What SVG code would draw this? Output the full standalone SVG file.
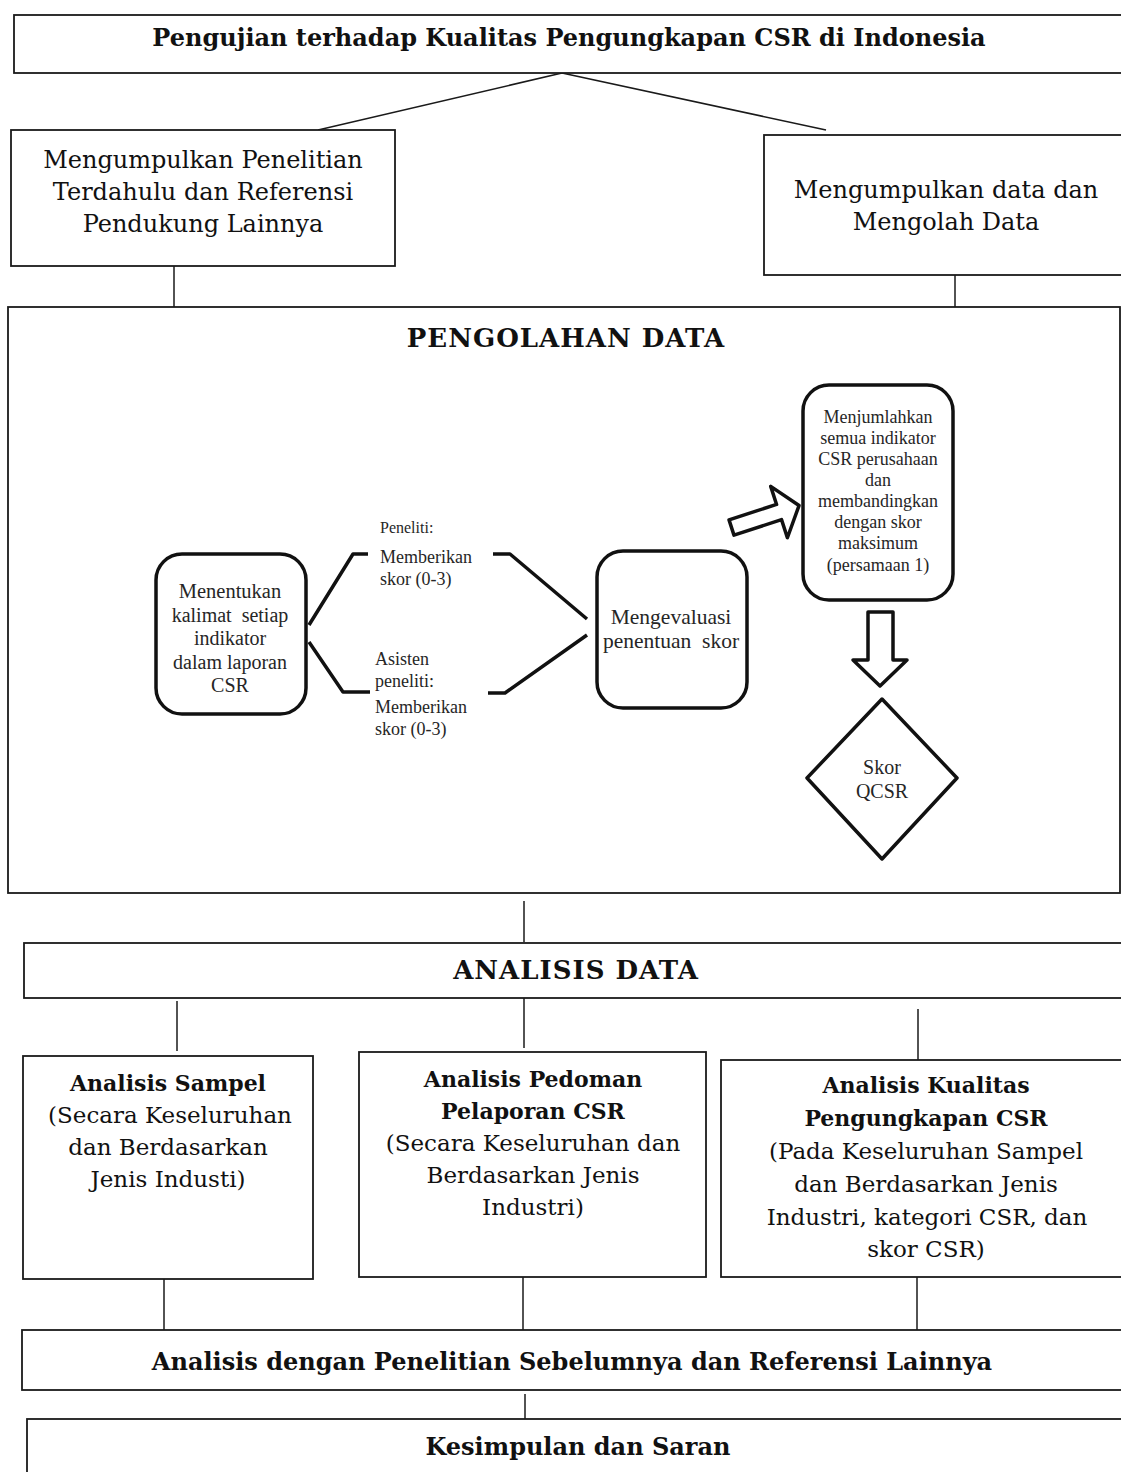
<svg xmlns="http://www.w3.org/2000/svg" width="1121" height="1472" viewBox="0 0 1121 1472">
<style>
.box{fill:#fff;stroke:#1a1a1a;stroke-width:1.8}
.ln{stroke:#1a1a1a;stroke-width:1.5;fill:none}
.t{font-family:"DejaVu Serif","Liberation Serif",serif;font-size:23px;fill:#111;text-anchor:middle}
.t24{font-size:24px}
.b{font-weight:bold}
.b22{font-weight:bold;font-size:22px}
.cap{font-size:26px;letter-spacing:1px}
.rr{fill:#fff;stroke:#111;stroke-width:3.5}
.thick{stroke:#111;stroke-width:3.5;fill:none;stroke-linejoin:round}
.s{font-family:"Liberation Serif","Times New Roman",serif;fill:#262626;text-anchor:middle}
.sl{font-family:"Liberation Serif","Times New Roman",serif;fill:#262626}
</style>
<rect width="1121" height="1472" fill="#fff"/>
<g id="connectors">
<line class="ln" x1="562" y1="73" x2="318" y2="130"/>
<line class="ln" x1="562" y1="73" x2="826" y2="130"/>
<line class="ln" x1="174" y1="266" x2="174" y2="308"/>
<line class="ln" x1="955" y1="275" x2="955" y2="308"/>
<line class="ln" x1="524" y1="901" x2="524" y2="942"/>
<line class="ln" x1="177" y1="1001" x2="177" y2="1051"/>
<line class="ln" x1="524" y1="998" x2="524" y2="1048"/>
<line class="ln" x1="918" y1="1009" x2="918" y2="1060"/>
<line class="ln" x1="164" y1="1279" x2="164" y2="1330"/>
<line class="ln" x1="523" y1="1277" x2="523" y2="1330"/>
<line class="ln" x1="917" y1="1277" x2="917" y2="1330"/>
<line class="ln" x1="525" y1="1394" x2="525" y2="1420"/>
</g>
<g id="n-title">
<rect class="box" x="14" y="15" width="1120" height="58"/>
<text class="t t24 b" x="569" y="46">Pengujian terhadap Kualitas Pengungkapan CSR di Indonesia</text>
</g>
<g id="n-kumpul-penelitian">
<rect class="box" x="11" y="130" width="384" height="136"/>
<text class="t t24" x="203" y="168">Mengumpulkan Penelitian</text>
<text class="t t24" x="203" y="200">Terdahulu dan Referensi</text>
<text class="t t24" x="203" y="232">Pendukung Lainnya</text>
</g>
<g id="n-kumpul-data">
<rect class="box" x="764" y="135" width="370" height="140"/>
<text class="t t24" x="946" y="198">Mengumpulkan data dan</text>
<text class="t t24" x="946" y="230">Mengolah Data</text>
</g>
<g id="n-pengolahan">
<rect class="box" x="8" y="307" width="1112" height="586"/>
<text class="t b cap" x="566" y="347">PENGOLAHAN DATA</text>
</g>
<g id="n-menentukan">
<rect class="rr" x="156" y="554" width="150" height="160" rx="26"/>
<text class="s" font-size="20.5" x="230" y="598">Menentukan</text>
<text class="s" font-size="20" x="230" y="622" xml:space="preserve">kalimat  setiap</text>
<text class="s" font-size="20" x="230" y="645">indikator</text>
<text class="s" font-size="20" x="230" y="669">dalam laporan</text>
<text class="s" font-size="20" x="230" y="692">CSR</text>
</g>
<g id="branches">
<polyline class="thick" points="309,625 353,554 368,554"/>
<polyline class="thick" points="309,642 343,692 370,692"/>
<polyline class="thick" points="493,554 510,554 587,619"/>
<polyline class="thick" points="488,693 505,693 587,635"/>
<text class="sl" font-size="16" x="380" y="533">Peneliti:</text>
<text class="sl" font-size="18" x="380" y="563">Memberikan</text>
<text class="sl" font-size="18" x="380" y="585">skor (0-3)</text>
<text class="sl" font-size="18" x="375" y="665">Asisten</text>
<text class="sl" font-size="18" x="375" y="687">peneliti:</text>
<text class="sl" font-size="18" x="375" y="713">Memberikan</text>
<text class="sl" font-size="18" x="375" y="735">skor (0-3)</text>
</g>
<g id="n-mengevaluasi">
<rect class="rr" x="597" y="551" width="150" height="157" rx="26"/>
<text class="s" font-size="21.5" x="671" y="624">Mengevaluasi</text>
<text class="s" font-size="21.5" x="671" y="648" xml:space="preserve">penentuan  skor</text>
</g>
<g id="arrow-diag">
<polygon class="thick" stroke-width="3" fill="#fff" points="0,-8 50,-8 50,-27 71,0 50,27 50,8 0,8" transform="translate(731.5,527.5) rotate(-18)"/>
</g>
<g id="n-menjumlahkan">
<rect class="rr" x="803" y="385" width="150" height="215" rx="26"/>
<text class="s" font-size="18" x="878" y="423">Menjumlahkan</text>
<text class="s" font-size="18" x="878" y="444">semua indikator</text>
<text class="s" font-size="18" x="878" y="465">CSR perusahaan</text>
<text class="s" font-size="18" x="878" y="486">dan</text>
<text class="s" font-size="18" x="878" y="507">membandingkan</text>
<text class="s" font-size="18" x="878" y="528">dengan skor</text>
<text class="s" font-size="18" x="878" y="549">maksimum</text>
<text class="s" font-size="18" x="878" y="571">(persamaan 1)</text>
</g>
<g id="arrow-down">
<polygon class="thick" stroke-width="3" fill="#fff" points="868,612 893,612 893,660 907,660 880,686 853,660 868,660"/>
</g>
<g id="n-skor">
<polygon class="thick" stroke-width="3.5" fill="#fff" points="882,699 957,778 882,859 807,778"/>
<text class="s" font-size="20" x="882" y="774">Skor</text>
<text class="s" font-size="20" x="882" y="798">QCSR</text>
</g>
<g id="n-analisis-data">
<rect class="box" x="24" y="943" width="1110" height="55"/>
<text class="t b cap" x="576" y="979">ANALISIS DATA</text>
</g>
<g id="n-sampel">
<rect class="box" x="23" y="1056" width="290" height="223"/>
<text class="t b22" x="168" y="1091">Analisis Sampel</text>
<text class="t" x="170" y="1123">(Secara Keseluruhan</text>
<text class="t" x="168" y="1155">dan Berdasarkan</text>
<text class="t" x="168" y="1187">Jenis Industi)</text>
</g>
<g id="n-pedoman">
<rect class="box" x="359" y="1052" width="347" height="225"/>
<text class="t b22" x="533" y="1087">Analisis Pedoman</text>
<text class="t b22" x="533" y="1119">Pelaporan CSR</text>
<text class="t" x="533" y="1151">(Secara Keseluruhan dan</text>
<text class="t" x="533" y="1183">Berdasarkan Jenis</text>
<text class="t" x="533" y="1215">Industri)</text>
</g>
<g id="n-kualitas">
<rect class="box" x="721" y="1060" width="413" height="217"/>
<text class="t b22" x="926" y="1093">Analisis Kualitas</text>
<text class="t b22" x="926" y="1126">Pengungkapan CSR</text>
<text class="t" x="926" y="1159">(Pada Keseluruhan Sampel</text>
<text class="t" x="926" y="1192">dan Berdasarkan Jenis</text>
<text class="t" x="927" y="1225">Industri, kategori CSR, dan</text>
<text class="t" x="926" y="1257">skor CSR)</text>
</g>
<g id="n-analisis-sebelumnya">
<rect class="box" x="22" y="1330" width="1112" height="60"/>
<text class="t t24 b" x="572" y="1370">Analisis dengan Penelitian Sebelumnya dan Referensi Lainnya</text>
</g>
<g id="n-kesimpulan">
<rect class="box" x="27" y="1419" width="1107" height="70"/>
<text class="t t24 b" x="578" y="1455">Kesimpulan dan Saran</text>
</g>
</svg>
